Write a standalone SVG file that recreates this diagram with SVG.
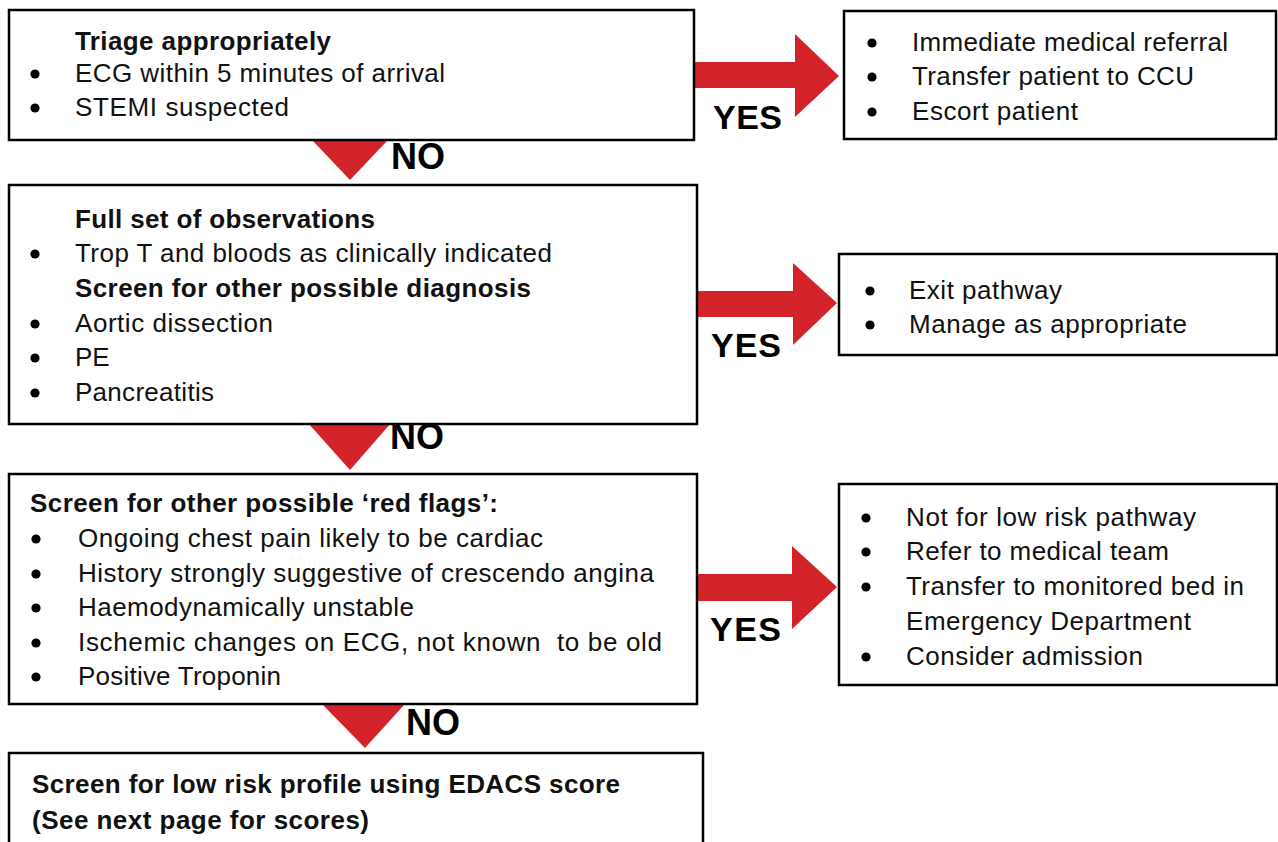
<svg xmlns="http://www.w3.org/2000/svg" width="1278" height="842" viewBox="0 0 1278 842">
<style>
.box{fill:#fff;stroke:#000;stroke-width:2.5}
.t{font-family:"Liberation Sans",Arial,sans-serif;font-size:26px;fill:#111}
.b{font-weight:bold}
.lbl{font-family:"Liberation Sans",Arial,sans-serif;font-size:34px;font-weight:bold;fill:#000}
.no{font-size:36px}
.arr{fill:#D2232A}
</style>
<defs>
<circle id="bul" r="4.6" fill="#000"/>
</defs>
<rect width="1278" height="842" fill="#fff"/>
<g id="connectors">
<polygon class="arr" points="694,62 795,62 795,34 839,76 795,117 795,88 694,88"/>
<polygon class="arr" points="697,291 793,291 793,263 837,303 793,345 793,317 697,317"/>
<polygon class="arr" points="697,574 792,574 792,546 837,587 792,629 792,601 697,601"/>
<polygon class="arr" points="313,141 387,141 350,180"/>
<polygon class="arr" points="308,423 391,423 350,470"/>
<polygon class="arr" points="322,704 405,704 365,748"/>
<text class="lbl" x="713" y="129" textLength="69">YES</text>
<text class="lbl" x="711" y="357" textLength="70">YES</text>
<text class="lbl" x="710" y="641" textLength="71">YES</text>
<text class="lbl no" x="391" y="169">NO</text>
<text class="lbl no" x="390" y="449">NO</text>
<text class="lbl no" x="406" y="735">NO</text>
</g>
<g id="node-triage">
<rect class="box" x="9" y="10" width="685" height="130"/>
<text class="t b" x="75" y="50" textLength="256">Triage appropriately</text>
<use href="#bul" x="35" y="74"/>
<text class="t" x="75" y="82" textLength="370">ECG within 5 minutes of arrival</text>
<use href="#bul" x="35" y="108"/>
<text class="t" x="75" y="116" textLength="214">STEMI suspected</text>
</g>
<g id="node-stemi-yes">
<rect class="box" x="844" y="11" width="432" height="128"/>
<use href="#bul" x="872" y="43"/>
<text class="t" x="912" y="51" textLength="316">Immediate medical referral</text>
<use href="#bul" x="872" y="77"/>
<text class="t" x="912" y="85" textLength="282">Transfer patient to CCU</text>
<use href="#bul" x="872" y="112"/>
<text class="t" x="912" y="120" textLength="166">Escort patient</text>
</g>
<g id="node-observations">
<rect class="box" x="9" y="185" width="688" height="239"/>
<text class="t b" x="75" y="228" textLength="300">Full set of observations</text>
<use href="#bul" x="35" y="254"/>
<text class="t" x="75" y="262" textLength="477">Trop T and bloods as clinically indicated</text>
<text class="t b" x="75" y="297" textLength="456">Screen for other possible diagnosis</text>
<use href="#bul" x="35" y="324"/>
<text class="t" x="75" y="332" textLength="198">Aortic dissection</text>
<use href="#bul" x="35" y="358"/>
<text class="t" x="75" y="366">PE</text>
<use href="#bul" x="35" y="393"/>
<text class="t" x="75" y="401" textLength="139">Pancreatitis</text>
</g>
<g id="node-exit">
<rect class="box" x="839" y="254" width="438" height="101"/>
<use href="#bul" x="870" y="291"/>
<text class="t" x="909" y="299" textLength="153">Exit pathway</text>
<use href="#bul" x="870" y="325"/>
<text class="t" x="909" y="333" textLength="278">Manage as appropriate</text>
</g>
<g id="node-redflags">
<rect class="box" x="9" y="474" width="688" height="230"/>
<text class="t b" x="30" y="512" textLength="468">Screen for other possible ‘red flags’:</text>
<use href="#bul" x="36" y="539"/>
<text class="t" x="78" y="547" textLength="465">Ongoing chest pain likely to be cardiac</text>
<use href="#bul" x="36" y="574"/>
<text class="t" x="78" y="582" textLength="576">History strongly suggestive of crescendo angina</text>
<use href="#bul" x="36" y="608"/>
<text class="t" x="78" y="616" textLength="336">Haemodynamically unstable</text>
<use href="#bul" x="36" y="643"/>
<text class="t" x="78" y="651" textLength="584" xml:space="preserve">Ischemic changes on ECG, not known  to be old</text>
<use href="#bul" x="36" y="677"/>
<text class="t" x="78" y="685" textLength="203">Positive Troponin</text>
</g>
<g id="node-notlowrisk">
<rect class="box" x="839" y="484" width="438" height="201"/>
<use href="#bul" x="866" y="518"/>
<text class="t" x="906" y="526" textLength="290">Not for low risk pathway</text>
<use href="#bul" x="866" y="552"/>
<text class="t" x="906" y="560" textLength="263">Refer to medical team</text>
<use href="#bul" x="866" y="587"/>
<text class="t" x="906" y="595" textLength="338">Transfer to monitored bed in</text>
<text class="t" x="906" y="630" textLength="285">Emergency Department</text>
<use href="#bul" x="866" y="657"/>
<text class="t" x="906" y="665" textLength="237">Consider admission</text>
</g>
<g id="node-edacs">
<rect class="box" x="9" y="753" width="694" height="120"/>
<text class="t b" x="32" y="793" textLength="588">Screen for low risk profile using EDACS score</text>
<text class="t b" x="32" y="829" textLength="337">(See next page for scores)</text>
</g>
</svg>
